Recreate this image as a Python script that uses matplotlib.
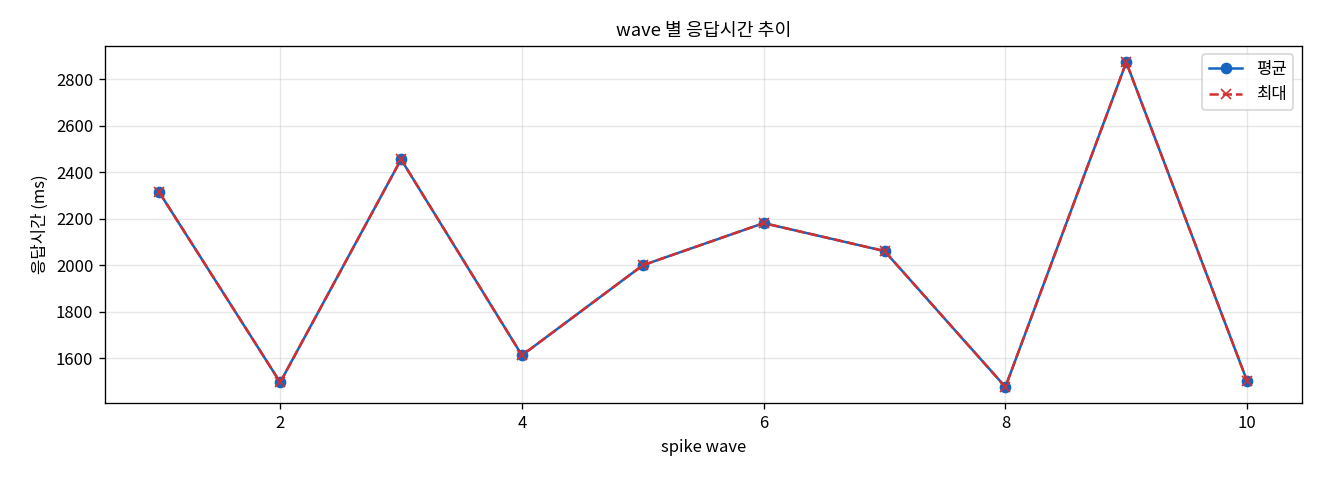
import numpy as np
import matplotlib
matplotlib.use('Agg')
import matplotlib.pyplot as plt

plt.rcParams['font.family'] = ['Noto Sans CJK KR', 'DejaVu Sans']

# wave 별 응답시간 (ms)
waves = [1, 2, 3, 4, 5, 6, 7, 8, 9, 10]
mean_ms = [2313, 1497, 2455, 1613, 2000, 2181, 2061, 1477, 2872, 1502]
max_ms = [2313, 1497, 2455, 1613, 2000, 2181, 2061, 1477, 2872, 1502]

fig, ax = plt.subplots(figsize=(11, 4), dpi=120)
fig.subplots_adjust(left=0.0795, right=0.986, top=0.904, bottom=0.160)

ax.plot(waves, mean_ms, color='#1565c0', marker='o', markersize=6,
        linewidth=1.5, label='평균')
ax.plot(waves, max_ms, color='#d32f2f', marker='x', markersize=6,
        linewidth=1.5, linestyle='--', label='최대')

ax.set_title('wave 별 응답시간 추이', fontsize=11)
ax.set_xlabel('spike wave', fontsize=10)
ax.set_ylabel('응답시간 (ms)', fontsize=10)
ax.grid(True, alpha=0.3)
ax.legend(loc='upper right')

plt.savefig('out.png', dpi=120)
plt.close('all')
